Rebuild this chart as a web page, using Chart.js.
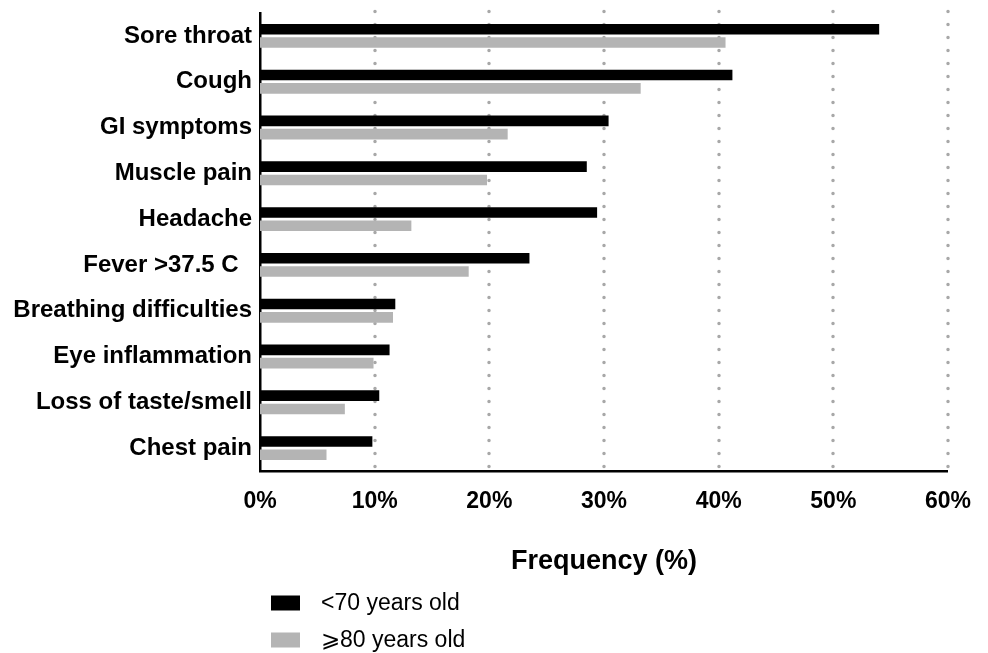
<!DOCTYPE html>
<html>
<head>
<meta charset="utf-8">
<script src="https://cdn.jsdelivr.net/npm/chart.js@4.4.0/dist/chart.umd.min.js"></script>
<style>
  html, body { margin: 0; padding: 0; background: #fff; }
  #wrap { width: 988px; height: 653px; position: relative; }
</style>
</head>
<body>
<div id="wrap"><canvas id="symptoms" width="988" height="653"></canvas></div>
<script>
  // symptom frequency by age group
  const symptoms = ['Sore throat', 'Cough', 'GI symptoms', 'Muscle pain', 'Headache', 'Fever >37.5 C  ',
    'Breathing difficulties', 'Eye inflammation', 'Loss of taste/smell', 'Chest pain'];
  const under70 = [54.0, 41.2, 30.4, 28.5, 29.4, 23.5, 11.8, 11.3, 10.4, 9.8];
  const over80 = [40.6, 33.2, 21.6, 19.8, 13.2, 18.2, 11.6, 9.9, 7.4, 5.8];
  const freqTicks = [0, 10, 20, 30, 40, 50, 60];
  const seriesNames = ['<70 years old', '\u2A7E80 years old'];

  const FONT = "'Liberation Sans', Arial, Helvetica, sans-serif";

  // dotted vertical grid with round dots
  const dottedGrid = {
    id: 'dottedGrid',
    beforeDatasetsDraw: (chart) => {
      const { ctx, chartArea, scales } = chart;
      const x = scales.x;
      ctx.save();
      ctx.strokeStyle = '#a8a8a8';
      ctx.lineWidth = 3.5;
      ctx.lineCap = 'round';
      ctx.setLineDash([0, 13]);
      x.ticks.forEach((t) => {
        if (t.value === 0) return;
        const px = Math.round(x.getPixelForValue(t.value));
        ctx.beginPath();
        ctx.moveTo(px, chartArea.top - 1.5);
        ctx.lineTo(px, chartArea.bottom);
        ctx.stroke();
      });
      ctx.restore();
    }
  };

  // legend stacked in a column under the axis title
  const columnLegend = {
    id: 'columnLegend',
    afterDraw: (chart) => {
      const { ctx, chartArea } = chart;
      const left = chartArea.left + 11;
      ctx.save();
      ctx.font = '23px ' + FONT;
      ctx.textBaseline = 'middle';
      chart.data.datasets.forEach((ds, i) => {
        const y = 603 + i * 37;
        ctx.fillStyle = ds.backgroundColor;
        ctx.fillRect(left, y - 7.5, 29, 15);
        ctx.fillStyle = '#000';
        ctx.fillText(ds.label, left + 50, y + 1);
      });
      ctx.restore();
    }
  };

  new Chart(document.getElementById('symptoms'), {
    type: 'bar',
    data: {
      labels: symptoms,
      datasets: [
        { label: seriesNames[0], data: under70, backgroundColor: '#000000' },
        { label: seriesNames[1], data: over80, backgroundColor: '#b4b4b4' }
      ]
    },
    options: {
      indexAxis: 'y',
      responsive: false,
      animation: false,
      barPercentage: 0.8,
      categoryPercentage: 0.58,
      layout: { padding: { top: 13, right: 38, left: 0, bottom: 0 } },
      plugins: {
        legend: { display: false },
        tooltip: { enabled: true }
      },
      scales: {
        x: {
          min: freqTicks[0],
          max: freqTicks[freqTicks.length - 1],
          afterBuildTicks: (scale) => { scale.ticks = freqTicks.map(v => ({ value: v })); },
          afterFit: (scale) => { scale.height = 182; },
          grid: { display: false, drawTicks: false },
          border: { display: true, color: '#000', width: 2.5 },
          ticks: {
            padding: 17,
            color: '#000',
            font: { family: FONT, size: 23, weight: 'bold', lineHeight: 1.2 },
            callback: (v) => v + '%'
          },
          title: {
            display: true,
            text: 'Frequency (%)',
            color: '#000',
            font: { family: FONT, size: 27, weight: 'bold', lineHeight: 1.2 },
            padding: { top: 0, bottom: 75 }
          }
        },
        y: {
          afterFit: (scale) => {
            scale.width = 260;
            scale.paddingTop = 0;
            scale.paddingBottom = 0;
          },
          grid: { display: false, drawTicks: false },
          border: { display: true, color: '#000', width: 2.5 },
          ticks: {
            padding: 8,
            color: '#000',
            font: { family: FONT, size: 24, weight: 'bold' }
          }
        }
      }
    },
    plugins: [dottedGrid, columnLegend]
  });
</script>
</body>
</html>
